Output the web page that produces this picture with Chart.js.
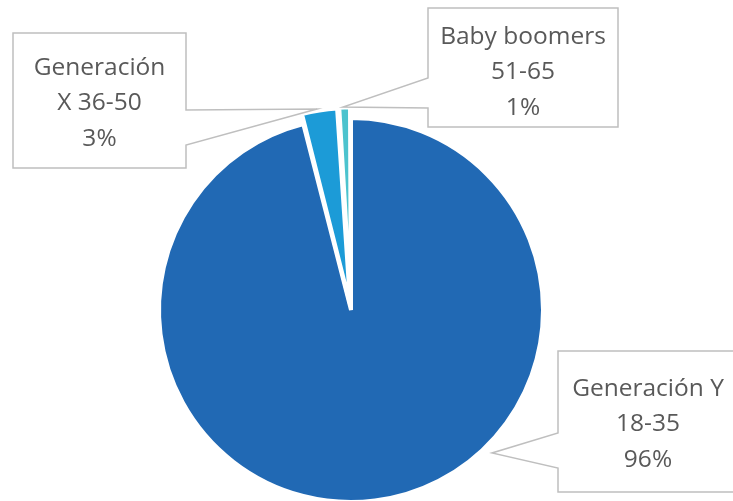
<!DOCTYPE html>
<html>
<head>
<meta charset="utf-8">
<script src="https://cdn.jsdelivr.net/npm/chart.js@4"></script>
<style>
    html, body { margin: 0; padding: 0; background: #fff; overflow: hidden; }
    #wrap { position: relative; width: 733px; height: 520px; }
</style>
</head>
<body>
<div id="wrap"><canvas id="ageChart"></canvas></div>
<script>
const categories = ['Generación Y', 'Generación X', 'Baby boomers'];
const ageRanges = ['18-35', '36-50', '51-65'];
const shares = [96, 3, 1];

const sliceColors = ['#2169B4', '#1C9BD7', '#4CC3CE'];
// Chart.js moves an arc by roughly offset / 2, so this pulls the two small slices out ~10px
const sliceOffsets = [0, 22, 22];

// Callout boxes: box rect, the edge the pointer leaves from, and where it points
const callouts = [
    { x: 558, y: 351, w: 180, h: 141, side: 'left', p1: 433, p2: 468, tip: [492, 453], wrap: 170, dy: 1 },
    { x: 13, y: 33, w: 173, h: 135, side: 'right', p1: 110, p2: 145, tip: [317, 109], wrap: 145, dy: 1 },
    { x: 428, y: 8, w: 190, h: 119, side: 'left', p1: 78, p2: 108, tip: [343, 107], wrap: 180, dy: 3 }
];

const FONT_SIZE = 24.5;
const FONT = FONT_SIZE + 'px "Open Sans"';
const LINE_H = 35.5;

function wrapText(ctx, text, maxWidth) {
    const words = text.split(' ');
    const lines = [];
    let line = '';
    words.forEach(w => {
        const test = line ? line + ' ' + w : w;
        if (line && ctx.measureText(test).width > maxWidth) {
            lines.push(line);
            line = w;
        } else {
            line = test;
        }
    });
    if (line) lines.push(line);
    return lines;
}

function drawCallout(ctx, c, lines) {
    const r = c.x + c.w, b = c.y + c.h;
    ctx.beginPath();
    if (c.side === 'right') {
        ctx.moveTo(c.x, c.y);
        ctx.lineTo(r, c.y);
        ctx.lineTo(r, c.p1);
        ctx.lineTo(c.tip[0], c.tip[1]);
        ctx.lineTo(r, c.p2);
        ctx.lineTo(r, b);
        ctx.lineTo(c.x, b);
    } else {
        ctx.moveTo(c.x, c.y);
        ctx.lineTo(r, c.y);
        ctx.lineTo(r, b);
        ctx.lineTo(c.x, b);
        ctx.lineTo(c.x, c.p2);
        ctx.lineTo(c.tip[0], c.tip[1]);
        ctx.lineTo(c.x, c.p1);
    }
    ctx.closePath();
    ctx.fillStyle = '#ffffff';
    ctx.fill();
    ctx.strokeStyle = '#BFBFBF';
    ctx.lineWidth = 1.5;
    ctx.stroke();

    // lines are spaced around the box centre, placed by cap height
    ctx.fillStyle = '#595959';
    ctx.textAlign = 'center';
    ctx.textBaseline = 'alphabetic';
    const cx = c.x + c.w / 2;
    const mid = c.y + c.h / 2 + c.dy;
    const first = mid - (lines.length - 1) * LINE_H / 2 + FONT_SIZE * 0.357;
    lines.forEach((ln, i) => ctx.fillText(ln, cx, first + i * LINE_H));
}

const calloutPlugin = {
    id: 'callouts',
    afterDraw(chart) {
        const ctx = chart.ctx;
        ctx.save();
        ctx.font = FONT;
        callouts.forEach((c, i) => {
            const lines = wrapText(ctx, categories[i] + ' ' + ageRanges[i], c.wrap);
            lines.push(shares[i] + '%');
            drawCallout(ctx, c, lines);
        });
        ctx.restore();
    }
};

function renderChart() {
    const ctx = document.getElementById('ageChart').getContext('2d');
    new Chart(ctx, {
        type: 'pie',
        data: {
            labels: categories,
            datasets: [{
                data: shares,
                backgroundColor: sliceColors,
                borderColor: '#ffffff',
                borderWidth: 4,
                offset: sliceOffsets
            }]
        },
        options: {
            responsive: true,
            maintainAspectRatio: false,
            animation: false,
            events: [],
            layout: { padding: { left: 146, right: 177, top: 105, bottom: 5 } },
            plugins: {
                legend: { display: false },
                tooltip: { enabled: false }
            }
        },
        plugins: [calloutPlugin]
    });
}

document.fonts.load(FONT).then(renderChart, renderChart);
</script>
</body>
</html>
